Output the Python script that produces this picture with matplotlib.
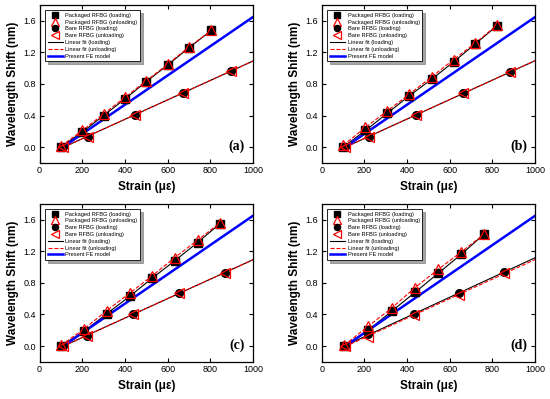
import numpy as np
import matplotlib.pyplot as plt

plt.rcParams['font.family'] = ['Liberation Sans', 'DejaVu Sans']

# packaged RFBG: strain, loading shift, unloading shift
pack_x = {
    'a': [100, 200, 300, 400, 500, 600, 700, 805],
    'b': [100, 205, 308, 410, 515, 618, 720, 822],
    'c': [100, 210, 315, 422, 528, 633, 740, 845],
    'd': [105, 217, 327, 437, 545, 653, 762],
}
pack_load = {
    'a': [0.0, 0.19, 0.40, 0.61, 0.83, 1.04, 1.26, 1.48],
    'b': [0.0, 0.21, 0.43, 0.65, 0.86, 1.08, 1.31, 1.54],
    'c': [0.0, 0.19, 0.41, 0.63, 0.86, 1.08, 1.31, 1.55],
    'd': [0.0, 0.20, 0.44, 0.68, 0.92, 1.16, 1.42],
}
pack_unload = {
    'a': [0.01, 0.21, 0.42, 0.63, 0.84, 1.05, 1.27, 1.48],
    'b': [0.02, 0.25, 0.46, 0.67, 0.89, 1.11, 1.32, 1.55],
    'c': [0.01, 0.22, 0.45, 0.67, 0.89, 1.12, 1.34, 1.56],
    'd': [0.01, 0.25, 0.48, 0.74, 0.97, 1.19, 1.42],
}
# bare RFBG
bare_x = {
    'a': [110, 225, 448, 670, 895],
    'b': [110, 220, 443, 662, 882],
    'c': [110, 220, 437, 652, 870],
    'd': [110, 215, 430, 643, 855],
}
bare_load = {
    'a': [0.0, 0.13, 0.41, 0.69, 0.96],
    'b': [0.0, 0.13, 0.41, 0.68, 0.95],
    'c': [0.0, 0.13, 0.40, 0.67, 0.93],
    'd': [0.0, 0.15, 0.40, 0.67, 0.94],
}
bare_unload = {
    'a': [0.0, 0.13, 0.41, 0.69, 0.96],
    'b': [0.0, 0.13, 0.41, 0.68, 0.95],
    'c': [0.0, 0.13, 0.40, 0.67, 0.93],
    'd': [0.0, 0.12, 0.39, 0.65, 0.92],
}
# FE model line
fe_x = [110, 1000]
fe_y = [0.0, 1.65]

panels = ['a', 'b', 'c', 'd']
positions = {
    'a': [0.072, 0.592, 0.388, 0.395],
    'b': [0.585, 0.592, 0.388, 0.395],
    'c': [0.072, 0.093, 0.388, 0.396],
    'd': [0.585, 0.093, 0.388, 0.396],
}

fig = plt.figure(figsize=(5.5, 3.99), dpi=100)

for p in panels:
    ax = fig.add_axes(positions[p])
    px = np.array(pack_x[p])
    bx = np.array(bare_x[p])

    # bare fits extended to 1000
    xx = np.array([bx[0], 1000])
    cl = np.polyfit(bx, bare_load[p], 1)
    cu = np.polyfit(bx, bare_unload[p], 1)

    ax.plot(px, pack_load[p], color='black', lw=0.8, zorder=2)
    ax.plot(px, pack_unload[p], color='red', lw=0.8, ls='--', zorder=2)
    ax.plot(xx, np.polyval(cl, xx), color='black', lw=0.8, zorder=2)
    ax.plot(xx, np.polyval(cu, xx), color='red', lw=0.8, ls='--', zorder=2)
    ax.plot(fe_x, fe_y, color='#0000ff', lw=1.8, zorder=2)

    ax.plot(px, pack_load[p], 's', color='black', ms=5.5, ls='none', zorder=3,
            label='Packaged RFBG (loading)')
    ax.plot(px, pack_unload[p], '^', mfc='none', mec='red', mew=0.9, ms=6.5, ls='none', zorder=4,
            label='Packaged RFBG (unloading)')
    ax.plot(bx, bare_load[p], 'o', color='black', ms=5.5, ls='none', zorder=3,
            label='Bare RFBG (loading)')
    ax.plot(bx, bare_unload[p], '<', mfc='none', mec='red', mew=0.9, ms=6.5, ls='none', zorder=4,
            label='Bare RFBG (unloading)')
    ax.plot([], [], color='black', lw=0.8, label='Linear fit (loading)')
    ax.plot([], [], color='red', lw=0.8, ls='--', label='Linear fit (unloading)')
    ax.plot([], [], color='#0000ff', lw=1.8, label='Present FE model')

    ax.set_xlim(0, 1000)
    ax.set_ylim(-0.2, 1.8)
    ax.set_xticks([0, 200, 400, 600, 800, 1000])
    ax.set_yticks([0.0, 0.4, 0.8, 1.2, 1.6])
    ax.set_yticklabels(['0.0', '0.4', '0.8', '1.2', '1.6'])
    ax.tick_params(direction='in', top=True, right=True, labelsize=6.5, length=3, width=0.8, pad=2.5)
    for s in ax.spines.values():
        s.set_linewidth(0.9)
    ax.set_xlabel('Strain (\u03bc\u03b5)', fontsize=8.5, fontweight='bold', labelpad=4)
    ax.set_ylabel('Wavelength Shift (nm)', fontsize=8.5, fontweight='bold', labelpad=3)
    ax.text(0.963, 0.108, '(%s)' % p, transform=ax.transAxes, ha='right', va='center',
            fontsize=10, fontweight='bold', family='Liberation Serif')

    leg = ax.legend(loc='upper left', fontsize=4.1, frameon=True, fancybox=False, shadow=True,
                    handlelength=2.6, labelspacing=0.32, borderpad=0.45, handletextpad=0.5,
                    borderaxespad=0, bbox_to_anchor=(0.026, 0.968), markerscale=0.8)
    leg.get_frame().set_edgecolor('black')
    leg.get_frame().set_linewidth(0.6)

fig.savefig('out.png', dpi=100)
